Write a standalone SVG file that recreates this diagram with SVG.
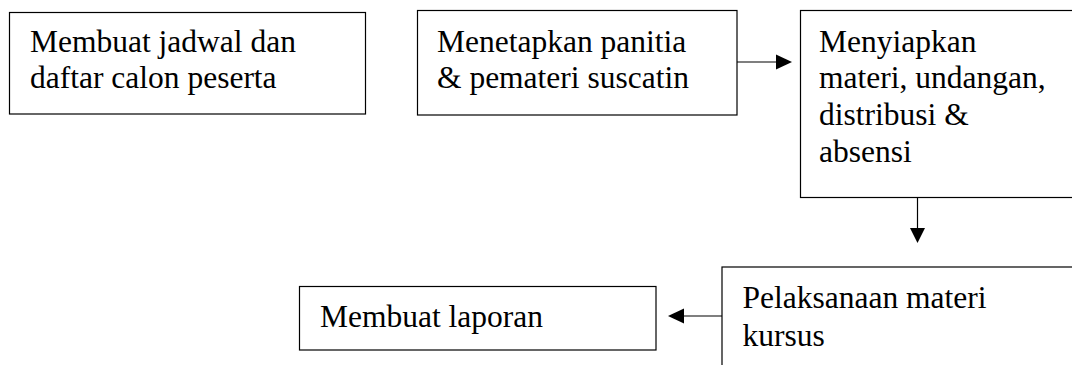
<svg xmlns="http://www.w3.org/2000/svg" width="1072" height="365" viewBox="0 0 1072 365">
<style>
.box{fill:#fff;stroke:#000;stroke-width:1.2}
.t{font-family:'Liberation Serif','DejaVu Serif',serif;font-size:31.5px;fill:#000}
.c{stroke:#000;stroke-width:1.2;fill:none}
.h{fill:#000;stroke:none}
</style>
<rect width="1072" height="365" fill="#fff"/>
<g id="n1">
<rect class="box" x="9.5" y="12.5" width="356" height="101.5"/>
<text class="t" font-family="Liberation Serif, serif" x="30" y="51.7">Membuat jadwal dan</text>
<text class="t" font-family="Liberation Serif, serif" x="30" y="88.4">daftar calon peserta</text>
</g>
<g id="n2">
<rect class="box" x="417.5" y="10.5" width="319.5" height="104.5"/>
<text class="t" font-family="Liberation Serif, serif" x="437" y="51.7">Menetapkan panitia</text>
<text class="t" font-family="Liberation Serif, serif" x="437" y="88.4">&amp; pemateri suscatin</text>
</g>
<g id="n3">
<rect class="box" x="800.5" y="10.5" width="290" height="187"/>
<text class="t" font-family="Liberation Serif, serif" x="819" y="51.7">Menyiapkan</text>
<text class="t" font-family="Liberation Serif, serif" x="819" y="88.4">materi, undangan,</text>
<text class="t" font-family="Liberation Serif, serif" x="819" y="125.1">distribusi &amp;</text>
<text class="t" font-family="Liberation Serif, serif" x="819" y="161.8">absensi</text>
</g>
<g id="n4">
<rect class="box" x="722" y="267" width="370" height="120"/>
<text class="t" font-family="Liberation Serif, serif" x="742.5" y="308.3">Pelaksanaan materi</text>
<text class="t" font-family="Liberation Serif, serif" x="742.5" y="346">kursus</text>
</g>
<g id="n5">
<rect class="box" x="299.5" y="286.5" width="356.5" height="63.5"/>
<text class="t" font-family="Liberation Serif, serif" x="320" y="326.7">Membuat laporan</text>
</g>
<g id="connectors">
<line class="c" x1="737" y1="62" x2="777" y2="62"/>
<polygon class="h" points="776,54.5 792,62 776,69.5"/>
<line class="c" x1="917.5" y1="197.5" x2="917.5" y2="229"/>
<polygon class="h" points="910,228 925,228 917.5,243"/>
<line class="c" x1="722" y1="316" x2="683" y2="316"/>
<polygon class="h" points="684,308.5 684,323.5 668,316"/>
</g>
</svg>
